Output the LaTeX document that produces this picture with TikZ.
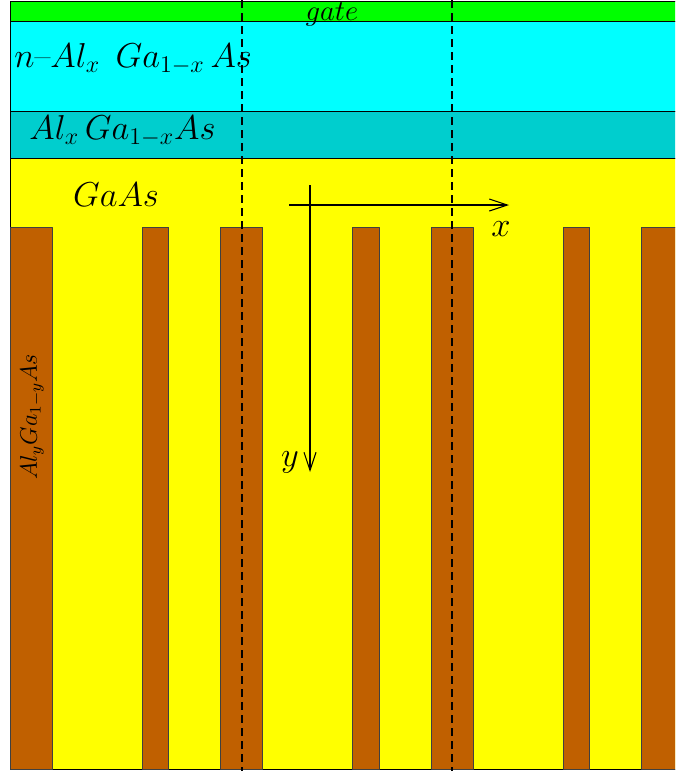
\documentclass[tikz,border=0pt]{standalone}
\usetikzlibrary{arrows.meta}
\definecolor{gatecol}{RGB}{0,255,0}
\definecolor{dopedcol}{RGB}{0,255,255}
\definecolor{spacercol}{RGB}{0,206,206}
\definecolor{wellcol}{RGB}{255,255,0}
\definecolor{wallcol}{RGB}{192,96,0}
\begin{document}
\begin{tikzpicture}[x=0.5pt,y=-0.5pt,line join=round,
  layer/.style={draw=black,line width=0.5pt},
  wall/.style={draw=black!75,fill=wallcol,line width=0.5pt},
  axis/.style={-{Straight Barb[length=9pt,width=6pt]},line width=0.55pt},
  guide/.style={dash pattern=on 4pt off 2.5pt,line width=0.55pt,draw=black}]
  \useasboundingbox (0,0) rectangle (675,771);
  \clip (0,0) rectangle (675,771);
  % layers
  \draw[layer,fill=wellcol] (10,158) rectangle (700,769);
  \foreach \k in {0,...,3}
    \draw[wall] ({10+210.5*\k},227) rectangle ++(42,542);
  \foreach \k in {0,...,2}
    \draw[wall] ({142+210.5*\k},227) rectangle ++(26.5,542);
  \draw[layer,fill=gatecol] (10,1) rectangle (700,21);
  \draw[layer,fill=dopedcol] (10,21) rectangle (700,111);
  \draw[layer,fill=spacercol] (10,111) rectangle (700,158);
  % guides
  \coordinate (g1top) at (242,0);
  \coordinate (g1bot) at (242,771);
  \coordinate (g2top) at (452,0);
  \coordinate (g2bot) at (452,771);
  \draw[guide] (g1top) -- (g1bot);
  \draw[guide] (g2top) -- (g2bot);
  % axes
  \coordinate (xstart) at (289,205);
  \coordinate (xend) at (509,205);
  \coordinate (ystart) at (310,185);
  \coordinate (yend) at (310,472);
  \draw[axis] (xstart) -- (xend);
  \draw[axis] (ystart) -- (yend);
  % labels
  \node[font=\Large] (gate) at (332,14) {$gate$};
  \node[font=\LARGE,anchor=west,inner sep=0pt] (doped) at (14,59) {$n$--$Al_{x}\;\,Ga_{1-x}\,As$};
  \node[font=\LARGE,anchor=west,inner sep=0pt] (spacer) at (29,131) {$Al_{x}\,Ga_{1-x}As$};
  \node[font=\LARGE] (well) at (116,195) {$GaAs$};
  \node[font=\LARGE] (xlab) at (501,229) {$x$};
  \node[font=\LARGE] (ylab) at (290,462) {$y$};
  \node[font=\large,rotate=90] (wall) at (32,417) {$Al_{y}Ga_{1-y}As$};
\end{tikzpicture}
\end{document}
